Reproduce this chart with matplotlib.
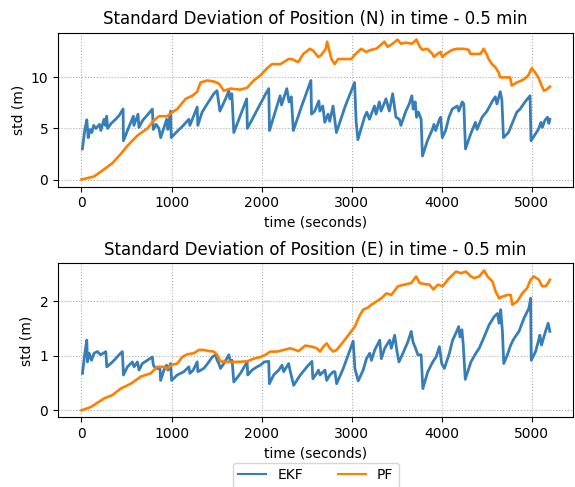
import matplotlib
matplotlib.use('Agg')
import matplotlib.pyplot as plt
import numpy as np

# north std, EKF  (time s, std m)
t_ekf_n = [10, 37, 59, 74, 95, 115, 135, 160, 200, 215, 250, 265, 280, 290, 330, 380, 420, 462, 466,
           520, 576, 582, 628, 638, 680, 740, 787, 797, 830, 860, 880, 946, 960, 990, 997, 1050, 1120,
           1193, 1204, 1285, 1292, 1340, 1396, 1470, 1505, 1537, 1600, 1637, 1648, 1670, 1692, 1765,
           1835, 1842, 1920, 1985, 2040, 2080, 2088, 2150, 2206, 2222, 2280, 2305, 2330, 2353, 2450,
           2548, 2555, 2590, 2636, 2647, 2680, 2702, 2738, 2757, 2794, 2831, 2930, 3033, 3051, 3070,
           3143, 3169, 3198, 3254, 3272, 3308, 3327, 3382, 3419, 3456, 3493, 3530, 3548, 3603, 3640,
           3669, 3684, 3706, 3721, 3743, 3772, 3787, 3842, 3897, 3915, 3934, 3971, 3989, 4007, 4044,
           4081, 4118, 4173, 4191, 4228, 4246, 4265, 4320, 4375, 4393, 4449, 4504, 4559, 4596, 4614,
           4651, 4669, 4687, 4742, 4798, 4835, 4871, 4926, 4982, 4993, 5037, 5074, 5103, 5118, 5147,
           5176, 5191, 5202]
ekf_n = [3.0, 4.9, 5.85, 4.1, 4.9, 4.6, 5.3, 5.0, 5.4, 4.8, 5.9, 5.3, 6.2, 5.0, 5.5, 5.9, 6.3, 6.9, 3.8,
         5.0, 6.2, 5.3, 6.4, 5.1, 5.8, 6.4, 6.9, 4.9, 5.4, 5.0, 4.1, 5.9, 4.9, 6.7, 4.1, 4.6, 5.2,
         5.9, 5.3, 7.1, 5.3, 6.6, 7.4, 8.4, 8.7, 6.7, 7.9, 8.7, 7.9, 8.4, 4.6, 6.3,
         7.9, 5.0, 6.3, 7.4, 8.3, 8.9, 4.8, 6.6, 8.2, 7.3, 8.9, 7.6, 8.1, 4.8, 7.3,
         9.7, 6.4, 6.7, 7.7, 6.7, 7.2, 5.6, 6.4, 5.7, 7.2, 4.6, 7.2, 9.5, 5.6, 3.9,
         6.1, 6.6, 5.9, 7.2, 6.4, 7.6, 6.7, 7.9, 6.7, 8.4, 6.1, 5.9, 5.3, 6.7, 7.4,
         8.2, 6.9, 7.6, 6.1, 6.6, 5.9, 2.3, 3.8, 4.9, 5.4, 4.8, 5.8, 6.1, 4.1, 4.8,
         6.1, 6.9, 7.2, 6.7, 7.6, 7.4, 3.0, 4.4, 5.6, 4.9, 6.1, 6.7, 7.6, 8.1, 7.4,
         8.6, 7.8, 4.1, 4.6, 5.8, 6.6, 6.9, 7.6, 8.2, 3.8, 4.4, 4.9, 5.6, 5.1, 5.8,
         6.1, 5.5, 5.9]

# north std, PF
t_pf_n = [0, 140, 251, 343, 436, 510, 620, 731, 805, 861, 953, 1008, 1064, 1119, 1156, 1230, 1285, 1322,
          1396, 1470, 1526, 1581, 1655, 1766, 1840, 1913, 1987, 2061, 2117, 2209, 2301, 2335, 2408, 2463,
          2537, 2575, 2629, 2665, 2713, 2728, 2750, 2776, 2812, 2850, 2941, 2996, 3033, 3070, 3106, 3161,
          3216, 3272, 3327, 3364, 3400, 3456, 3511, 3548, 3600, 3670, 3721, 3757, 3787, 3842, 3897, 3915,
          3952, 3989, 4007, 4044, 4118, 4173, 4246, 4300, 4320, 4375, 4430, 4467, 4504, 4522, 4559, 4596,
          4632, 4651, 4706, 4761, 4779, 4835, 4890, 4926, 4963, 5000, 5037, 5074, 5110, 5136, 5165, 5202]
pf_n = [0.0, 0.3, 1.0, 1.6, 2.5, 3.3, 4.3, 5.0, 5.8, 6.2, 6.2, 6.6, 6.9, 7.5, 7.9, 8.2, 8.6, 9.5,
        9.7, 9.6, 9.4, 8.7, 8.9, 8.8, 9.0, 9.7, 10.2, 10.9, 11.3, 11.3, 11.8, 11.8, 11.5, 12.3,
        12.8, 12.6, 12.0, 12.2, 12.8, 13.5, 12.7, 11.8, 11.3, 11.8, 11.8, 11.8, 12.2, 12.5, 12.8, 12.5,
        12.7, 12.8, 13.2, 13.5, 13.0, 13.3, 13.7, 13.3, 13.4, 13.3, 13.7, 13.0, 12.7, 12.8, 12.3, 12.0,
        12.3, 12.5, 12.0, 12.3, 12.7, 12.8, 12.8, 12.7, 12.3, 12.3, 12.3, 12.8, 12.2, 11.8, 11.3, 11.0,
        10.5, 10.0, 10.0, 10.0, 9.2, 9.5, 9.7, 9.9, 10.2, 10.9, 10.5, 10.0, 9.2, 8.7, 8.8, 9.1]

# east std, EKF
t_ekf_e = [11, 37, 59, 66, 85, 111, 140, 177, 214, 270, 281, 325, 362, 417, 454, 466, 510, 565, 584, 621,
           639, 676, 732, 787, 798, 824, 872, 879, 916, 945, 960, 990, 1001, 1064, 1137, 1193, 1204, 1241,
           1285, 1293, 1359, 1415, 1452, 1489, 1507, 1526, 1544, 1581, 1637, 1655, 1673, 1692, 1766, 1840,
           1847, 1895, 1950, 1987, 2031, 2080, 2087, 2135, 2191, 2228, 2246, 2301, 2320, 2357, 2431, 2505,
           2560, 2570, 2613, 2632, 2650, 2705, 2724, 2760, 2797, 2816, 2834, 2908, 2963, 3018, 3037, 3074,
           3129, 3166, 3202, 3221, 3258, 3313, 3331, 3368, 3424, 3442, 3479, 3505, 3527, 3571, 3626, 3663,
           3682, 3711, 3737, 3773, 3792, 3847, 3902, 3939, 3976, 4002, 4031, 4087, 4123, 4160, 4190, 4204,
           4226, 4241, 4263, 4326, 4381, 4418, 4473, 4528, 4584, 4621, 4639, 4657, 4676, 4691, 4731, 4768,
           4805, 4860, 4915, 4971, 4989, 4996, 5044, 5074, 5092, 5110, 5155, 5184, 5203]
ekf_e = [0.68, 1.05, 1.29, 0.89, 1.05, 0.92, 1.05, 1.08, 1.02, 1.08, 0.80, 0.86, 0.92, 1.02, 1.08, 0.65,
         0.80, 0.89, 0.80, 0.89, 0.74, 0.86, 0.92, 0.98, 0.83, 0.77, 0.77, 0.55, 0.74, 0.83, 0.74, 0.86,
         0.55, 0.65, 0.71, 0.80, 0.68, 0.74, 0.89, 0.71, 0.77, 0.89, 0.98, 1.02, 0.92, 0.86, 0.77, 0.86,
         1.02, 0.89, 0.92, 0.52, 0.68, 0.89, 0.65, 0.74, 0.80, 0.83, 0.89, 0.90, 0.49, 0.65, 0.74, 0.83,
         0.71, 0.86, 0.71, 0.46, 0.65, 0.80, 0.90, 0.58, 0.68, 0.74, 0.65, 0.74, 0.55, 0.65, 0.71, 0.71,
         0.49, 0.77, 1.02, 1.27, 0.77, 0.54, 0.74, 0.95, 1.05, 0.92, 1.11, 1.29, 0.95, 1.14, 1.29, 1.14,
         1.38, 1.08, 0.89, 1.05, 1.26, 1.45, 1.26, 1.14, 1.02, 1.02, 0.40, 0.71, 0.89, 0.98, 1.17, 0.86,
         0.77, 1.05, 1.29, 1.42, 1.54, 1.35, 1.48, 1.20, 0.57, 0.89, 1.05, 1.14, 1.35, 1.57, 1.72, 1.78,
         1.60, 1.85, 1.45, 0.86, 1.02, 1.20, 1.32, 1.45, 1.69, 1.88, 2.06, 0.92, 1.08, 1.26, 1.38, 1.20,
         1.45, 1.60, 1.45]

# east std, PF
t_pf_e = [0, 103, 251, 343, 436, 547, 658, 768, 842, 916, 953, 1008, 1064, 1119, 1174, 1249, 1304, 1359,
          1415, 1470, 1507, 1544, 1618, 1729, 1840, 1913, 1987, 2043, 2098, 2172, 2246, 2320, 2412, 2486,
          2560, 2615, 2650, 2687, 2724, 2760, 2797, 2834, 2908, 2982, 3037, 3092, 3129, 3184, 3221, 3276,
          3331, 3387, 3442, 3516, 3589, 3663, 3718, 3755, 3810, 3865, 3910, 3958, 4013, 4068, 4123, 4160,
          4215, 4270, 4326, 4363, 4418, 4473, 4510, 4565, 4602, 4639, 4676, 4731, 4768, 4786, 4841, 4897,
          4952, 4989, 5026, 5081, 5118, 5155, 5184, 5203]
pf_e = [0.0, 0.06, 0.22, 0.28, 0.40, 0.49, 0.62, 0.68, 0.80, 0.80, 0.77, 0.84, 0.86, 0.98, 1.03, 1.05,
        1.11, 1.11, 1.09, 1.08, 1.02, 0.90, 0.89, 0.89, 0.90, 0.95, 0.98, 1.02, 1.08, 1.08, 1.11, 1.14,
        1.09, 1.19, 1.17, 1.14, 1.08, 1.17, 1.23, 1.14, 1.08, 1.11, 1.26, 1.42, 1.54, 1.75, 1.85, 1.89,
        1.94, 2.00, 2.06, 2.15, 2.12, 2.28, 2.31, 2.34, 2.46, 2.34, 2.32, 2.31, 2.22, 2.31, 2.28, 2.40,
        2.49, 2.55, 2.52, 2.55, 2.46, 2.43, 2.46, 2.57, 2.46, 2.37, 2.18, 2.06, 2.09, 2.12, 2.12, 1.94,
        2.00, 2.15, 2.25, 2.40, 2.46, 2.40, 2.28, 2.28, 2.34, 2.40]

c_ekf = '#377eb8'
c_pf = '#ff7f00'

fig, (ax1, ax2) = plt.subplots(2, 1, figsize=(5.75, 4.87), dpi=100)
fig.subplots_adjust(left=0.101, right=0.997, top=0.933, bottom=0.143, hspace=0.5)

ax1.plot(t_ekf_n, ekf_n, color=c_ekf, lw=2.0, label='EKF')
ax1.plot(t_pf_n, pf_n, color=c_pf, lw=1.9, label='PF')
ax1.set_title('Standard Deviation of Position (N) in time - 0.5 min')

ax2.plot(t_ekf_e, ekf_e, color=c_ekf, lw=2.0, label='EKF')
ax2.plot(t_pf_e, pf_e, color=c_pf, lw=1.9, label='PF')
ax2.set_title('Standard Deviation of Position (E) in time - 0.5 min')

for ax in (ax1, ax2):
    ax.set_xlabel('time (seconds)')
    ax.set_ylabel('std (m)')
    ax.grid(True, linestyle=':', color='#b0b0b0')

leg = ax2.legend(loc='upper center', bbox_to_anchor=(0.5, -0.25), ncol=2, columnspacing=2.5)
for h in leg.get_lines():
    h.set_linewidth(1.5)

fig.savefig('out.png', dpi=100)
